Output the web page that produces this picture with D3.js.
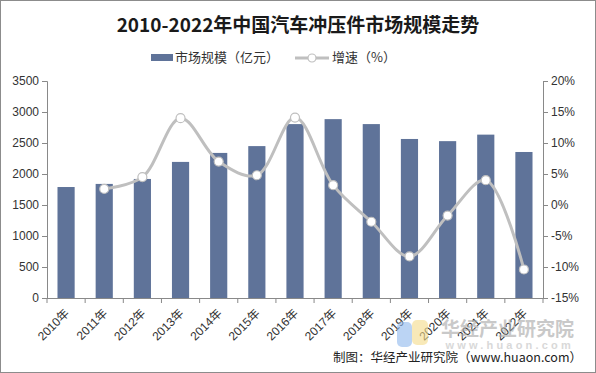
<!DOCTYPE html>
<html>
<head>
<meta charset="utf-8">
<script src="https://cdn.jsdelivr.net/npm/d3@7"></script>
<style>
  body { margin: 0; background: #fff; }
  svg { display: block; }
</style>
</head>
<body>
<svg id="chart" width="596" height="373"></svg>
<script>
// data
var years = ['2010年','2011年','2012年','2013年','2014年','2015年','2016年','2017年','2018年','2019年','2020年','2021年','2022年'];
var marketSize = [1790, 1840, 1920, 2195, 2340, 2450, 2805, 2885, 2805, 2565, 2530, 2635, 2355];
var growth = [null, 2.6, 4.5, 14.0, 7.0, 4.8, 14.1, 3.2, -2.7, -8.3, -1.7, 4.0, -10.4];
var leftTicks = [0, 500, 1000, 1500, 2000, 2500, 3000, 3500];
var rightTicks = [-15, -10, -5, 0, 5, 10, 15, 20];

var svg = d3.select('#chart');
var font = '"Liberation Sans", Arial, "Noto Sans CJK SC", sans-serif';
var cjk = '"Noto Sans CJK SC", "Liberation Sans", sans-serif';
var axisColor = '#898989';
var barColor = '#5f7399';
var lineColor = '#bfbfbf';

var plotL = 47, plotR = 543, plotT = 81, plotB = 298;

// outer frame
svg.append('rect')
  .attr('x', 0.5).attr('y', 0.5)
  .attr('width', 595).attr('height', 372)
  .attr('fill', '#fff').attr('stroke', '#8c8c8c');

var x = d3.scaleBand().domain(years).range([plotL, plotR]).paddingInner(0.55).paddingOuter(0.275);
var y = d3.scaleLinear().domain([0, 3500]).range([plotB, plotT]);
var y2 = d3.scaleLinear().domain([-15, 20]).range([plotB, plotT]);

// title
svg.append('text')
  .attr('x', 298).attr('y', 32)
  .attr('text-anchor', 'middle')
  .attr('font-family', cjk)
  .attr('font-weight', 'bold')
  .attr('font-size', 19)
  .attr('fill', '#1a1a1a')
  .text('2010-2022年中国汽车冲压件市场规模走势');

// legend
var lg = svg.append('g').attr('font-family', cjk).attr('font-size', 13).attr('fill', '#333');
lg.append('rect').attr('x', 151).attr('y', 54).attr('width', 22).attr('height', 7).attr('fill', barColor);
lg.append('text').attr('x', 175).attr('y', 62).text('市场规模（亿元）');
lg.append('line').attr('x1', 295).attr('x2', 329).attr('y1', 58).attr('y2', 58)
  .attr('stroke', lineColor).attr('stroke-width', 3);
lg.append('circle').attr('cx', 312).attr('cy', 58).attr('r', 4)
  .attr('fill', '#fff').attr('stroke', lineColor).attr('stroke-width', 1.2);
lg.append('text').attr('x', 332).attr('y', 62).text('增速（%）');

// left axis
var yAxis = d3.axisLeft(y).tickValues(leftTicks).tickSize(5).tickPadding(3).tickFormat(d3.format('d'));
var gy = svg.append('g').attr('transform', 'translate(' + plotL + ',0)').call(yAxis);
gy.select('.domain').attr('stroke', axisColor);
gy.selectAll('.tick line').attr('stroke', axisColor);
gy.selectAll('.tick text').attr('font-family', font).attr('font-size', 12).attr('fill', '#333');

// right axis
var yAxis2 = d3.axisRight(y2).tickValues(rightTicks).tickSize(5).tickPadding(3)
  .tickFormat(function(d) { return d + '%'; });
var gy2 = svg.append('g').attr('transform', 'translate(' + plotR + ',0)').call(yAxis2);
gy2.select('.domain').attr('stroke', axisColor);
gy2.selectAll('.tick line').attr('stroke', axisColor);
gy2.selectAll('.tick text').attr('font-family', font).attr('font-size', 12).attr('fill', '#333');

// bars
svg.append('g').selectAll('rect')
  .data(marketSize)
  .join('rect')
  .attr('x', function(d, i) { return x(years[i]); })
  .attr('y', function(d) { return y(d); })
  .attr('width', x.bandwidth())
  .attr('height', function(d) { return y(0) - y(d); })
  .attr('fill', barColor);

// x axis
svg.append('line')
  .attr('x1', plotL).attr('x2', plotR).attr('y1', plotB + 0.5).attr('y2', plotB + 0.5)
  .attr('stroke', axisColor);
var step = x.step();
var bounds = d3.range(years.length + 1).map(function(i) { return plotL + i * step; });
svg.append('g').selectAll('line')
  .data(bounds)
  .join('line')
  .attr('x1', function(d) { return d; }).attr('x2', function(d) { return d; })
  .attr('y1', plotB).attr('y2', plotB + 5)
  .attr('stroke', axisColor);

svg.append('g').selectAll('text')
  .data(years)
  .join('text')
  .attr('transform', function(d) {
    return 'translate(' + (x(d) + x.bandwidth() / 2 + 1) + ',' + (plotB + 13) + ') rotate(-45)';
  })
  .attr('text-anchor', 'end')
  .attr('dy', '0.35em')
  .attr('font-family', font)
  .attr('font-size', 12)
  .attr('fill', '#333')
  .text(function(d) { return d; });

// growth line
var pts = growth.map(function(d, i) { return { v: d, c: years[i] }; })
  .filter(function(d) { return d.v !== null; });
var line = d3.line()
  .x(function(d) { return x(d.c) + x.bandwidth() / 2; })
  .y(function(d) { return y2(d.v); })
  .curve(d3.curveCatmullRom.alpha(0.5));
svg.append('path')
  .datum(pts)
  .attr('d', line)
  .attr('fill', 'none')
  .attr('stroke', lineColor)
  .attr('stroke-width', 3);
svg.append('g').selectAll('circle')
  .data(pts)
  .join('circle')
  .attr('cx', function(d) { return x(d.c) + x.bandwidth() / 2; })
  .attr('cy', function(d) { return y2(d.v); })
  .attr('r', 4.5)
  .attr('fill', '#fff')
  .attr('stroke', lineColor)
  .attr('stroke-width', 1.2);

// watermark
var wm = svg.append('g').attr('opacity', 0.6);
wm.append('rect').attr('x', 397).attr('y', 322).attr('width', 15).attr('height', 25).attr('rx', 5).attr('fill', '#8fb8ee');
wm.append('rect').attr('x', 412).attr('y', 320).attr('width', 16).attr('height', 25).attr('rx', 5).attr('fill', '#f5dc8a');
wm.append('text').attr('x', 574).attr('y', 336).attr('text-anchor', 'end')
  .attr('font-family', cjk).attr('font-weight', 'bold').attr('font-size', 19).attr('fill', '#a6a6a6')
  .text('华经产业研究院');
wm.append('text').attr('x', 574).attr('y', 349).attr('text-anchor', 'end')
  .attr('font-family', font).attr('font-weight', 'bold').attr('font-size', 11).attr('letter-spacing', 3.2).attr('fill', '#c0c0c0')
  .text('www.huaon.com');

// source
svg.append('text')
  .attr('x', 582).attr('y', 362)
  .attr('text-anchor', 'end')
  .attr('font-family', cjk)
  .attr('font-size', 12.5)
  .attr('fill', '#222')
  .text('制图：华经产业研究院（www.huaon.com）');
</script>
</body>
</html>
